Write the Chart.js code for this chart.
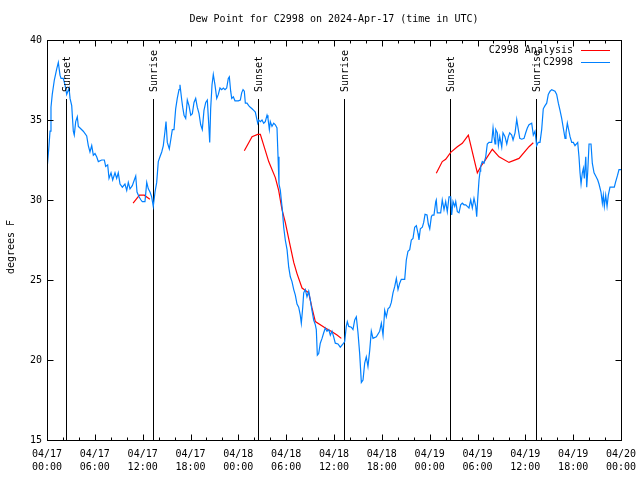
<!DOCTYPE html>
<html>
<head>
<meta charset="utf-8">
<script src="https://cdn.jsdelivr.net/npm/chart.js@4.4.1/dist/chart.umd.min.js"></script>
<style>
  body { margin: 0; background: #fff; }
</style>
</head>
<body>
<canvas id="dew_point_chart" width="640" height="480"></canvas>
<script>
// hours since 04/17 00:00 UTC, dew point (F)
const stationReadings = [[0,31.9],[0.25,33.4],[0.38,34.3],[0.5,35.8],[0.66,36.6],[0.92,37.5],[1.22,38.2],[1.42,38.6],[1.63,37.8],[1.76,37.6],[2.04,37.6],[2.26,37.2],[2.47,36.6],[2.76,37.0],[2.89,36.35],[3.1,35.9],[3.3,34.3],[3.42,34.06],[3.6,34.9],[3.8,35.2],[3.93,34.6],[4.14,34.5],[4.55,34.3],[4.98,34.0],[5.18,33.4],[5.39,33.0],[5.61,33.4],[5.81,32.8],[6.02,32.9],[6.23,32.7],[6.44,32.4],[6.86,32.5],[7.19,32.5],[7.36,32.1],[7.61,32.2],[7.78,31.35],[8.03,31.7],[8.24,31.25],[8.53,31.7],[8.74,31.35],[8.94,31.7],[9.16,31.0],[9.45,30.8],[9.78,31.0],[10.0,30.6],[10.2,31.1],[10.41,30.7],[10.7,30.9],[10.95,31.25],[11.13,31.5],[11.29,30.5],[11.54,30.2],[11.79,30.0],[11.95,29.9],[12.29,29.9],[12.51,31.1],[12.71,30.7],[12.92,30.5],[13.13,30.2],[13.33,29.6],[13.55,30.5],[13.76,31.1],[13.96,32.4],[14.17,32.7],[14.39,33.0],[14.59,33.4],[14.8,34.3],[14.93,34.9],[15.09,33.6],[15.34,33.2],[15.52,33.75],[15.72,34.4],[15.93,34.4],[16.14,35.7],[16.34,36.35],[16.56,36.9],[16.68,37.2],[16.9,36.25],[17.02,35.8],[17.19,35.3],[17.4,35.1],[17.6,36.25],[17.81,35.9],[18.03,35.3],[18.23,35.4],[18.44,36.1],[18.65,36.35],[18.85,35.8],[19.07,35.4],[19.28,34.7],[19.48,34.4],[19.69,35.6],[19.91,36.1],[20.11,36.25],[20.28,34.8],[20.41,33.6],[20.53,35.7],[20.7,37.2],[20.86,37.85],[21.07,37.2],[21.29,36.35],[21.49,36.6],[21.7,37.0],[21.91,36.9],[22.12,37.0],[22.33,36.9],[22.54,37.0],[22.74,37.6],[22.87,37.7],[23.04,36.8],[23.17,36.35],[23.37,36.45],[23.58,36.2],[24.0,36.2],[24.25,36.25],[24.42,36.7],[24.59,36.9],[24.75,36.8],[24.88,36.05],[25.09,36.05],[25.3,35.9],[25.5,35.8],[25.72,35.7],[25.93,35.6],[26.13,35.5],[26.26,35.2],[26.43,34.8],[26.56,35.0],[26.76,34.9],[26.97,35.0],[27.18,34.8],[27.38,34.9],[27.6,35.3],[27.72,35.1],[27.89,34.4],[28.01,34.9],[28.22,34.6],[28.44,34.8],[28.64,34.7],[28.85,34.5],[28.98,32.7],[29.1,31.0],[29.27,30.6],[29.39,30.0],[29.52,29.4],[29.69,28.3],[29.89,27.5],[30.11,26.9],[30.32,25.8],[30.52,25.2],[30.73,24.9],[30.95,24.4],[31.15,24.06],[31.36,23.5],[31.57,23.3],[31.77,22.8],[31.9,22.3],[32.08,23.3],[32.2,24.2],[32.4,24.4],[32.61,23.95],[32.83,24.3],[33.03,23.75],[33.24,23.1],[33.45,22.5],[33.66,22.2],[33.78,21.9],[33.91,20.3],[34.08,20.4],[34.28,21.05],[34.5,21.35],[34.71,21.7],[34.91,22.0],[35.12,21.8],[35.34,21.9],[35.54,21.55],[35.75,21.8],[35.96,21.45],[36.16,21.05],[36.5,21.0],[36.79,20.8],[37.13,21.0],[37.34,21.15],[37.54,22.1],[37.67,22.4],[37.85,22.1],[38.17,22.05],[38.38,21.9],[38.6,22.5],[38.8,22.7],[39.01,21.7],[39.22,20.4],[39.43,18.6],[39.64,18.75],[39.85,19.8],[40.05,20.2],[40.26,19.6],[40.48,20.6],[40.68,21.8],[40.89,21.35],[41.31,21.45],[41.73,21.8],[41.94,22.3],[42.15,21.55],[42.36,23.1],[42.56,22.7],[42.77,23.2],[42.99,23.3],[43.19,23.6],[43.4,24.2],[43.62,24.6],[43.82,25.1],[44.03,24.4],[44.24,24.8],[44.44,25.04],[44.87,25.04],[45.07,26.25],[45.28,26.8],[45.5,26.9],[45.7,27.5],[45.91,27.6],[46.12,28.3],[46.33,28.4],[46.54,27.9],[46.66,27.5],[46.83,28.2],[47.08,28.3],[47.25,28.6],[47.42,29.1],[47.67,29.06],[47.83,28.5],[48.01,28.2],[48.21,28.95],[48.33,29.06],[48.54,29.06],[48.76,29.9],[48.83,30.0],[48.96,29.2],[49.38,29.2],[49.58,30.0],[49.8,29.4],[50.01,29.9],[50.21,29.27],[50.43,30.2],[50.64,30.2],[50.76,29.06],[50.93,29.9],[51.14,29.6],[51.27,29.9],[51.47,29.27],[51.68,29.2],[51.89,29.7],[52.09,29.8],[52.31,29.7],[52.52,29.7],[52.72,29.6],[52.93,29.5],[53.15,30.0],[53.35,29.5],[53.56,30.1],[53.78,29.6],[53.9,28.95],[54.03,30.1],[54.19,31.25],[54.32,31.8],[54.4,32.1],[54.6,32.4],[54.82,32.3],[55.03,32.7],[55.23,33.5],[55.44,33.6],[55.78,33.6],[55.95,34.5],[56.07,33.96],[56.2,33.5],[56.29,34.4],[56.49,34.2],[56.62,33.4],[56.79,33.96],[57.04,33.3],[57.2,34.2],[57.45,33.96],[57.67,33.5],[57.87,33.96],[58.04,34.2],[58.29,34.06],[58.46,33.75],[58.71,34.2],[58.92,35.04],[59.12,34.4],[59.3,33.85],[59.55,33.8],[59.84,33.85],[60.05,34.2],[60.25,34.5],[60.46,34.7],[60.8,34.8],[61.0,34.06],[61.21,34.3],[61.42,33.4],[61.62,33.6],[61.84,33.6],[62.05,34.4],[62.25,35.7],[62.47,35.9],[62.68,36.05],[62.88,36.6],[63.1,36.8],[63.31,36.9],[63.72,36.8],[63.93,36.6],[64.14,36.05],[64.35,35.6],[64.56,35.1],[64.76,34.5],[64.98,33.85],[65.1,34.2],[65.27,34.8],[65.39,34.5],[65.61,33.96],[65.82,33.6],[66.02,33.6],[66.23,33.4],[66.57,33.6],[66.73,32.7],[66.86,31.7],[66.99,31.0],[67.15,31.7],[67.28,31.98],[67.4,31.35],[67.58,32.7],[67.7,30.8],[67.83,31.8],[67.99,33.5],[68.24,33.5],[68.4,32.3],[68.62,31.7],[68.83,31.5],[69.08,31.25],[69.24,31.0],[69.49,30.5],[69.66,29.8],[69.78,30.3],[69.91,29.6],[70.08,30.3],[70.25,29.6],[70.41,30.3],[70.62,30.8],[70.91,30.8],[71.16,30.8],[71.31,31.1],[71.57,31.55],[71.75,31.9],[72.0,31.9]];

// analysis series, null = gap between runs
const analysisReadings = [[10.8,29.8],[11.6,30.3],[12.2,30.3],[12.9,30.05],[18,null],[24.75,33.08],[25.72,33.96],[26.43,34.1],[26.76,34.1],[27.38,33.1],[27.81,32.4],[28.64,31.4],[29.06,30.6],[29.48,29.4],[29.89,28.6],[30.52,27.1],[30.95,26.1],[31.36,25.4],[31.99,24.5],[32.83,24.2],[33.24,23.25],[33.66,22.4],[34.91,22.0],[35.75,21.77],[36.38,21.56],[36.92,21.35],[43,null],[48.83,31.67],[49.58,32.4],[50.01,32.54],[50.64,32.98],[51.47,33.33],[52.09,33.54],[52.85,34.06],[53.98,31.7],[54.4,32.08],[55.03,32.54],[55.86,33.17],[56.7,32.7],[57.95,32.35],[59.21,32.6],[60.46,33.33],[61.0,33.58]];

const sunTimes = [2.42, 13.34, 26.5, 37.3, 50.6, 61.38];
const sunLabels = ['Sunset', 'Sunrise', 'Sunset', 'Sunrise', 'Sunset', 'Sunrise'];
const dayLabels = ['04/17', '04/18', '04/19', '04/20'];

const FONT = '10px "DejaVu Sans Mono"';

function toPoints(rows) {
    return rows.map(r => ({ x: r[0], y: r[1] }));
}

function crisp(v) {
    return Math.round(v) + 0.5;
}

const gnuplotLook = {
    id: 'gnuplotLook',
    beforeDraw(chart) {
        const ctx = chart.ctx;
        ctx.save();
        ctx.fillStyle = '#fff';
        ctx.fillRect(0, 0, chart.width, chart.height);
        ctx.restore();
    },
    beforeDatasetsDraw(chart) {
        const ctx = chart.ctx;
        const a = chart.chartArea;
        const xs = chart.scales.x;
        ctx.save();
        ctx.strokeStyle = '#000';
        ctx.lineWidth = 1;
        for (let i = 0; i < sunTimes.length; i++) {
            const px = crisp(xs.getPixelForValue(sunTimes[i]));
            ctx.beginPath();
            ctx.moveTo(px, a.top + 59);
            ctx.lineTo(px, a.bottom);
            ctx.stroke();
        }
        ctx.restore();
    },
    afterDatasetsDraw(chart) {
        const ctx = chart.ctx;
        const a = chart.chartArea;
        const xs = chart.scales.x;
        const ys = chart.scales.y;
        ctx.save();
        ctx.strokeStyle = '#000';
        ctx.fillStyle = '#000';
        ctx.lineWidth = 1;

        // border
        const l = crisp(a.left), r = crisp(a.right), t = crisp(a.top), b = crisp(a.bottom);
        ctx.strokeRect(l, t, r - l, b - t);

        // inward ticks, mirrored
        ctx.beginPath();
        xs.ticks.forEach(tk => {
            const px = crisp(xs.getPixelForValue(tk.value));
            const len = tk.value % 6 === 0 ? 6 : 3;
            ctx.moveTo(px, b); ctx.lineTo(px, b - len);
            ctx.moveTo(px, t); ctx.lineTo(px, t + len);
        });
        ys.ticks.forEach(tk => {
            const py = crisp(ys.getPixelForValue(tk.value));
            ctx.moveTo(l, py); ctx.lineTo(l + 6, py);
            ctx.moveTo(r, py); ctx.lineTo(r - 6, py);
        });
        ctx.stroke();

        ctx.font = FONT;

        // sunrise / sunset labels
        for (let i = 0; i < sunTimes.length; i++) {
            const px = xs.getPixelForValue(sunTimes[i]);
            ctx.save();
            ctx.translate(px + 1, a.top + 52);
            ctx.rotate(-Math.PI / 2);
            ctx.textAlign = 'left';
            ctx.textBaseline = 'middle';
            ctx.fillText(sunLabels[i], 0, 0);
            ctx.restore();
        }

        // key, top right inside the plot
        const keyOrder = [1, 0];
        keyOrder.forEach((di, row) => {
            const ds = chart.data.datasets[di];
            const y = a.top + 10 + row * 12;
            ctx.textAlign = 'right';
            ctx.textBaseline = 'middle';
            ctx.fillStyle = '#000';
            ctx.fillText(ds.label, a.right - 48, y);
            ctx.strokeStyle = ds.borderColor;
            ctx.beginPath();
            ctx.moveTo(a.right - 40, crisp(y));
            ctx.lineTo(a.right - 11, crisp(y));
            ctx.stroke();
        });

        // title and y axis title
        ctx.fillStyle = '#000';
        ctx.textAlign = 'center';
        ctx.textBaseline = 'middle';
        ctx.fillText('Dew Point for C2998 on 2024-Apr-17 (time in UTC)', (a.left + a.right) / 2, 19);
        ctx.save();
        ctx.translate(11, 247);
        ctx.rotate(-Math.PI / 2);
        ctx.fillText('degrees F', 0, 0);
        ctx.restore();

        ctx.restore();
    }
};

const dpc = document.getElementById('dew_point_chart');
new Chart(dpc, {
    type: 'line',
    data: {
        datasets: [{
            label: 'C2998',
            data: toPoints(stationReadings),
            borderColor: 'rgb(0, 128, 255)',
            borderWidth: 1.2,
            pointRadius: 0,
            tension: 0
        }, {
            label: 'C2998 Analysis',
            data: toPoints(analysisReadings),
            borderColor: 'rgb(255, 0, 0)',
            borderWidth: 1.2,
            pointRadius: 0,
            tension: 0,
            spanGaps: false
        }]
    },
    options: {
        responsive: false,
        animation: false,
        devicePixelRatio: 1,
        layout: { padding: { top: 40, right: 19, left: 0, bottom: 0 } },
        plugins: {
            legend: { display: false },
            title: { display: false },
            tooltip: { enabled: false }
        },
        scales: {
            x: {
                type: 'linear',
                min: 0,
                max: 72,
                afterFit: function(s) {
                    s.height = 40;
                    s.paddingLeft = 0;
                    s.paddingRight = 0;
                },
                grid: { display: false, drawTicks: false },
                border: { display: false },
                ticks: {
                    stepSize: 2,
                    autoSkip: false,
                    maxRotation: 0,
                    minRotation: 0,
                    padding: 8,
                    color: '#000',
                    font: { family: 'DejaVu Sans Mono', size: 10, lineHeight: 1.3 },
                    callback: function(value) {
                        if (value % 6 !== 0) return '';
                        const day = dayLabels[Math.floor(value / 24)];
                        const hour = String(value % 24).padStart(2, '0') + ':00';
                        return [day, hour];
                    }
                }
            },
            y: {
                min: 15,
                max: 40,
                afterFit: function(s) {
                    s.width = 47;
                    s.paddingTop = 0;
                    s.paddingBottom = 0;
                },
                grid: { display: false, drawTicks: false },
                border: { display: false },
                ticks: {
                    stepSize: 5,
                    padding: 5,
                    color: '#000',
                    font: { family: 'DejaVu Sans Mono', size: 10 }
                }
            }
        }
    },
    plugins: [gnuplotLook]
});
</script>
</body>
</html>
